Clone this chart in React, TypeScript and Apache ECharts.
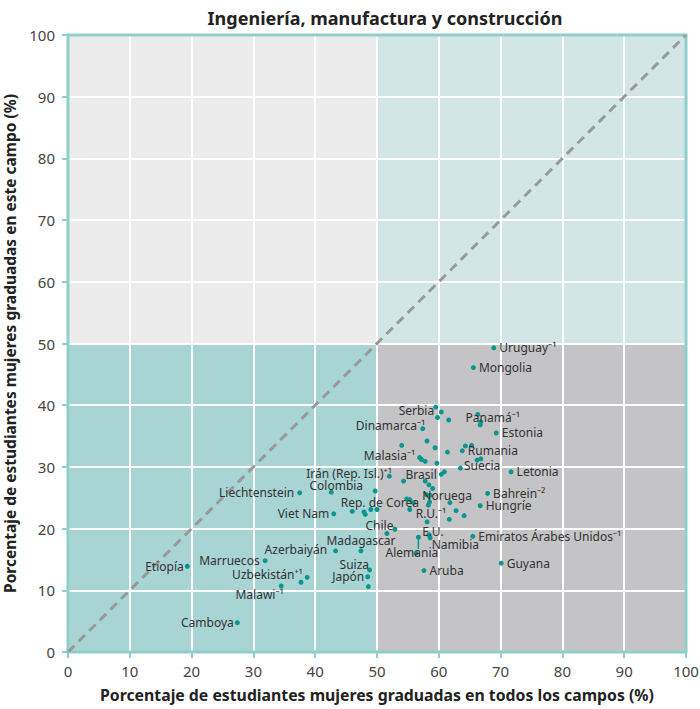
import React, { useEffect, useRef } from "react";
import * as echarts from "echarts";

const chartTitle = "Ingeniería, manufactura y construcción";
const xAxisName = "Porcentaje de estudiantes mujeres graduadas en todos los campos (%)";
const yAxisName = "Porcentaje de estudiantes mujeres graduadas en este campo (%)";

const axisMin = 0;
const axisMax = 100;
const axisStep = 10;
const parityLevel = 50;

// Labelled countries
const countries = [
  "Uruguay⁻¹", "Mongolia", "Serbia", "Panamá⁻¹", "Dinamarca⁻¹", "Estonia",
  "Malasia⁻¹", "Rumania", "Suecia", "Letonia", "Irán (Rep. Isl.)⁺¹", "Brasil",
  "Colombia", "Liechtenstein", "Noruega", "Bahrein⁻²", "Hungríe", "Rep. de Corea",
  "Viet Nam", "R.U.⁻¹", "Chile", "E.U.", "Namibia", "Alemania",
  "Emiratos Árabes Unidos⁻¹", "Madagascar", "Azerbaiyán", "Marruecos", "Etiopía",
  "Uzbekistán⁺¹", "Malawi⁻¹", "Suiza", "Japón", "Aruba", "Guyana", "Camboya",
];
const shareAllFields = [
  68.9, 65.6, 59.5, 66.3, 57.4, 69.3,
  56.9, 63.8, 63.5, 71.7, 52.0, 60.4,
  42.6, 37.5, 58.6, 67.9, 66.7, 49.0,
  43.0, 58.1, 52.9, 58.4, 58.6, 56.3,
  65.5, 47.4, 43.3, 31.9, 19.3,
  38.7, 34.5, 48.8, 48.5, 57.6, 70.1, 27.4,
];
const shareThisField = [
  49.3, 46.1, 39.7, 38.5, 36.2, 35.5,
  31.5, 32.6, 29.8, 29.2, 28.5, 28.8,
  25.9, 25.8, 25.4, 25.7, 23.7, 23.1,
  22.4, 21.1, 19.9, 19.0, 18.5, 16.0,
  18.75, 16.4, 16.4, 14.8, 13.9,
  12.1, 10.7, 13.3, 12.2, 13.2, 14.4, 4.75,
];

// Unlabelled countries
const otherAllFields = [
  49.7, 48.6, 46.0, 47.9, 48.1, 50.0, 51.6, 37.7, 56.7,
  60.4, 59.8, 61.6, 66.8, 66.7, 58.1, 54.0, 59.4, 61.4,
  57.2, 57.8, 59.7, 64.3, 65.3, 66.2, 66.8, 60.9,
  54.3, 57.8, 58.4, 59.0, 58.0, 58.5, 58.3,
  54.8, 55.3, 55.9, 55.3, 61.8, 62.8, 64.1, 61.7,
];
const otherThisField = [
  26.1, 10.6, 22.8, 22.7, 22.3, 23.1, 19.2, 11.3, 18.6,
  38.9, 38.0, 37.6, 37.3, 36.8, 34.2, 33.5, 33.1, 32.4,
  31.2, 30.9, 30.6, 33.4, 33.5, 31.1, 31.3, 29.2,
  27.7, 27.7, 27.1, 26.5, 25.5, 24.3, 23.8,
  24.8, 24.7, 24.2, 23.1, 24.2, 22.9, 22.1, 21.5,
];

// Leader line (Alemania) in data space
const leaderX = [56.7, 56.7];
const leaderY = [18.5, 16.7];

// Label placement: [position, dx, dy]
const labelPlacement: Record<string, [string, number, number]> = {
  "Uruguay⁻¹": ["right", 0, 0],
  "Mongolia": ["right", 0, 0],
  "Serbia": ["left", 4, 3],
  "Panamá⁻¹": ["inside", 15, 3],
  "Dinamarca⁻¹": ["left", 8, -3],
  "Estonia": ["right", 0, 0],
  "Malasia⁻¹": ["left", 1, -2],
  "Rumania": ["right", 0, 0],
  "Suecia": ["right", -2, -3],
  "Letonia": ["right", 0, 0],
  "Irán (Rep. Isl.)⁺¹": ["left", 8, -3],
  "Brasil": ["left", 1, 0],
  "Colombia": ["inside", 5, -7],
  "Liechtenstein": ["left", 0, 0],
  "Noruega": ["inside", 17, 0],
  "Bahrein⁻²": ["right", 0, 0],
  "Hungríe": ["right", 0, 0],
  "Rep. de Corea": ["inside", 9, -7],
  "Viet Nam": ["left", 1, 0],
  "R.U.⁻¹": ["inside", 4, -8],
  "Chile": ["left", 4, -4],
  "E.U.": ["inside", 4, -3],
  "Namibia": ["right", -4, 7],
  "Alemania": ["inside", -4, -1],
  "Emiratos Árabes Unidos⁻¹": ["right", 0, 0],
  "Madagascar": ["inside", 0, -10],
  "Azerbaiyán": ["left", -3, -1],
  "Marruecos": ["left", 0, 0],
  "Etiopía": ["left", 2, 0],
  "Uzbekistán⁺¹": ["left", 1, -3],
  "Malawi⁻¹": ["left", 8, 9],
  "Suiza": ["left", 5, -5],
  "Japón": ["left", 2, 0],
  "Aruba": ["right", 0, 0],
  "Guyana": ["right", 0, 0],
  "Camboya": ["left", 2, 0],
};

const FONT = "'Noto Sans', 'Open Sans', sans-serif";
const TEAL_DOT = "#08968f";
const FRAME = "#8ecfcc";

export default function App() {
  const ref = useRef<HTMLDivElement>(null);

  useEffect(() => {
    document.body.style.margin = "0";
    if (!ref.current) return;
    const chart = echarts.init(ref.current, undefined, { renderer: "svg" });

    const others = otherAllFields.map((x, i) => ({
      name: "",
      value: [x, otherThisField[i]],
      label: { show: false },
    }));
    const labelled = countries.map((name, i) => {
      const p = labelPlacement[name] || ["right", 0, 0];
      return {
        name,
        value: [shareAllFields[i], shareThisField[i]],
        label: {
          show: true,
          position: p[0],
          formatter: name,
        },
      };
    });
    const allData = [...others, ...labelled];

    const option: any = {
      animation: false,
      textStyle: { fontFamily: FONT },
      title: {
        text: chartTitle,
        left: 380,
        top: 4,
        textAlign: "center",
        textStyle: { fontFamily: FONT, fontSize: 18, fontWeight: "bold", color: "#222" },
      },
      grid: {
        left: 68,
        right: 14,
        top: 35,
        bottom: 57,
        outerBoundsMode: "none",
        containLabel: false,
        show: true,
        backgroundColor: "transparent",
        borderColor: FRAME,
        borderWidth: 3,
        z: 4,
      },
      xAxis: {
        type: "value",
        min: axisMin,
        max: axisMax,
        interval: axisStep,
        z: 3,
        name: xAxisName,
        nameLocation: "middle",
        nameGap: 35,
        nameTextStyle: { fontFamily: FONT, fontSize: 15.8, fontWeight: "bold", color: "#222" },
        axisLine: { show: false },
        axisTick: { show: true, length: 6, lineStyle: { color: FRAME, width: 2 } },
        axisLabel: { fontFamily: FONT, fontSize: 15, color: "#444", margin: 11 },
        splitLine: {
          show: true,
          showMinLine: false,
          showMaxLine: false,
          lineStyle: { color: "#ffffff", width: 2 },
        },
      },
      yAxis: {
        type: "value",
        min: axisMin,
        max: axisMax,
        interval: axisStep,
        z: 3,
        name: yAxisName,
        nameLocation: "middle",
        nameGap: 45,
        nameTextStyle: { fontFamily: FONT, fontSize: 15.5, fontWeight: "bold", color: "#222" },
        axisLine: { show: false },
        axisTick: { show: true, length: 6, lineStyle: { color: FRAME, width: 2 } },
        axisLabel: { fontFamily: FONT, fontSize: 15, color: "#444", margin: 13 },
        splitLine: {
          show: true,
          showMinLine: false,
          showMaxLine: false,
          lineStyle: { color: "#ffffff", width: 2 },
        },
      },
      series: [
        {
          type: "line",
          z: 1,
          data: [],
          silent: true,
          markArea: {
            silent: true,
            data: [
              [{ xAxis: axisMin, yAxis: parityLevel, itemStyle: { color: "#ececec" } }, { xAxis: parityLevel, yAxis: axisMax }],
              [{ xAxis: parityLevel, yAxis: parityLevel, itemStyle: { color: "#d2e7e5" } }, { xAxis: axisMax, yAxis: axisMax }],
              [{ xAxis: axisMin, yAxis: axisMin, itemStyle: { color: "#a8d4d4" } }, { xAxis: parityLevel, yAxis: parityLevel }],
              [{ xAxis: parityLevel, yAxis: axisMin, itemStyle: { color: "#c4c4c6" } }, { xAxis: axisMax, yAxis: parityLevel }],
            ],
          },
        },
        {
          type: "line",
          z: 4,
          silent: true,
          symbol: "none",
          data: [[axisMin, axisMin], [axisMax, axisMax]],
          lineStyle: { color: "#999999", width: 3, type: [9, 6] },
        },
        {
          type: "line",
          z: 5,
          silent: true,
          symbol: "none",
          data: leaderX.map((x, i) => [x, leaderY[i]]),
          lineStyle: { color: TEAL_DOT, width: 1.5 },
        },
        {
          type: "scatter",
          z: 6,
          symbolSize: 5,
          itemStyle: { color: TEAL_DOT, opacity: 1 },
          label: {
            fontFamily: FONT,
            fontSize: 12,
            color: "#333",
            distance: 3,
          },
          labelLayout: (params: any) => {
            const item: any = allData[params.dataIndex];
            const p = item && item.name ? labelPlacement[item.name] : null;
            if (!p) return {};
            return { dx: p[1], dy: p[2], hideOverlap: false };
          },
          data: allData,
        },
      ],
    };

    chart.setOption(option);
    return () => chart.dispose();
  }, []);

  return <div ref={ref} style={{ width: 700, height: 709 }} />;
}
